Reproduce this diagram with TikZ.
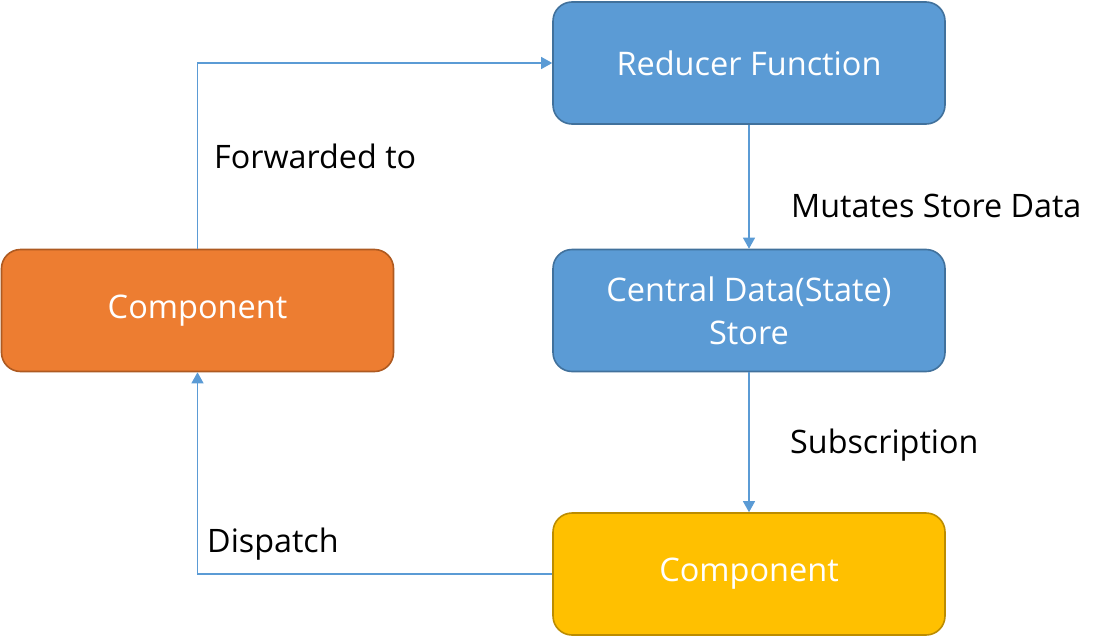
\documentclass[tikz,border=0pt]{standalone}
\usepackage{fontspec}
\setmainfont{Open Sans}
\usetikzlibrary{arrows.meta}

\definecolor{boxblue}{HTML}{5B9BD5}
\definecolor{boxblueline}{HTML}{41719C}
\definecolor{boxorange}{HTML}{ED7D31}
\definecolor{boxorangeline}{HTML}{AE5A21}
\definecolor{boxyellow}{HTML}{FFC000}
\definecolor{boxyellowline}{HTML}{BC8C00}
\definecolor{flowline}{HTML}{5B9BD5}

\tikzset{
  box/.style={draw, line width=1.6pt, rounded corners=19pt, minimum width=392pt,
    minimum height=122pt, text=white, align=center,
    font=\fontsize{32.5}{43}\selectfont},
  flow/.style={draw=flowline, line width=1.1pt, -{Triangle[length=11pt,width=12pt]}},
  lbl/.style={anchor=base west, inner sep=0pt, font=\fontsize{32.3}{38}\selectfont}
}

\begin{document}
\begin{tikzpicture}[x=1pt,y=-1pt]
      \useasboundingbox (0,0) rectangle (1107,637);
      %boxes
      \node[box, fill=boxblue, draw=boxblueline] (reducer) at (749,63) {Reducer Function};
      \node[box, fill=boxblue, draw=boxblueline] (store) at (749,310.5) {Central Data(State)\\Store};
      \node[box, fill=boxyellow, draw=boxyellowline] (view) at (749,574) {Component};
      \node[box, fill=boxorange, draw=boxorangeline] (comp) at (197.5,310.5) {Component};
      %arrows
      \draw[flow] (comp.north) |- (reducer.west);
      \draw[flow] (reducer.south) -- (store.north);
      \draw[flow] (store.south) -- (view.north);
      \draw[flow] (view.west) -| (comp.south);
      %labels
      \node[lbl] (fwd) at (214,168) {Forwarded to};
      \node[lbl] (mut) at (791,217) {Mutates Store Data};
      \node[lbl] (sub) at (790,453) {Subscription};
      \node[lbl] (dsp) at (207,552) {Dispatch};
\end{tikzpicture}
\end{document}
